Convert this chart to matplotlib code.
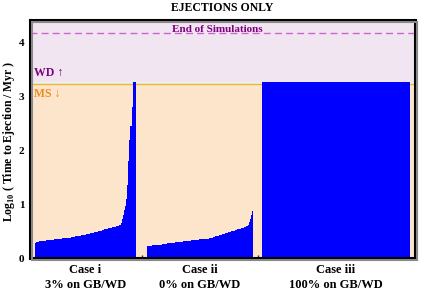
import numpy as np
import matplotlib
matplotlib.use("Agg")
import matplotlib.pyplot as plt
from matplotlib.patches import Rectangle
from matplotlib.transforms import blended_transform_factory

plt.rcParams['font.family'] = ['Liberation Serif', 'DejaVu Serif']
plt.rcParams['font.weight'] = 'bold'
plt.rcParams['mathtext.fontset'] = 'custom'
plt.rcParams['mathtext.rm'] = 'Liberation Serif:bold'
plt.rcParams['mathtext.bf'] = 'Liberation Serif:bold'

# ---------------- data ----------------
title = "EJECTIONS ONLY"
case_names = ["Case i", "Case ii", "Case iii"]
case_notes = ["3% on GB/WD", "0% on GB/WD", "100% on GB/WD"]

# sorted log10(time to ejection / Myr) for each case
case_i = [0.28, 0.29, 0.30, 0.30, 0.31, 0.31, 0.31, 0.32, 0.32, 0.32,
          0.32, 0.33, 0.33, 0.33, 0.33, 0.34, 0.34, 0.34, 0.34, 0.35,
          0.35, 0.35, 0.35, 0.36, 0.36, 0.36, 0.36, 0.37, 0.37, 0.37,
          0.37, 0.38, 0.38, 0.38, 0.38, 0.38, 0.39, 0.39, 0.39, 0.39,
          0.40, 0.40, 0.40, 0.41, 0.41, 0.41, 0.42, 0.42, 0.43, 0.43,
          0.44, 0.44, 0.45, 0.45, 0.46, 0.46, 0.47, 0.47, 0.48, 0.48,
          0.49, 0.49, 0.50, 0.50, 0.51, 0.51, 0.52, 0.52, 0.53, 0.53,
          0.54, 0.54, 0.55, 0.55, 0.56, 0.56, 0.57, 0.57, 0.58, 0.58,
          0.59, 0.59, 0.60, 0.61, 0.62, 0.65, 0.72, 0.80, 0.90, 0.97,
          1.10, 1.35, 1.80, 2.20, 2.45, 2.45, 2.80, 3.27, 3.27, 3.27]
case_ii = [0.22, 0.23, 0.23, 0.23, 0.23, 0.24, 0.24, 0.24, 0.24, 0.24,
           0.25, 0.25, 0.25, 0.25, 0.25, 0.26, 0.26, 0.26, 0.26, 0.26,
           0.27, 0.27, 0.27, 0.27, 0.28, 0.28, 0.28, 0.28, 0.29, 0.29,
           0.29, 0.29, 0.30, 0.30, 0.30, 0.30, 0.31, 0.31, 0.31, 0.31,
           0.32, 0.32, 0.32, 0.32, 0.33, 0.33, 0.33, 0.33, 0.34, 0.34,
           0.34, 0.34, 0.35, 0.35, 0.35, 0.35, 0.35, 0.35, 0.35, 0.35,
           0.36, 0.36, 0.37, 0.37, 0.38, 0.38, 0.39, 0.39, 0.40, 0.40,
           0.41, 0.41, 0.42, 0.43, 0.43, 0.44, 0.45, 0.45, 0.46, 0.47,
           0.47, 0.48, 0.48, 0.49, 0.50, 0.50, 0.51, 0.51, 0.52, 0.52,
           0.53, 0.53, 0.54, 0.54, 0.55, 0.55, 0.56, 0.57, 0.58, 0.59,
           0.60, 0.62, 0.66, 0.72, 0.80, 0.88]
case_iii = [3.27]

ms_end = 3.24        # end of main sequence
wd_start = 3.27      # start of white dwarf phase
sim_end = 4.176      # end of simulations
y_ticks = [0, 1, 2, 3, 4]

# ---------------- layout ----------------
W, H = 436, 291
fig = plt.figure(figsize=(W / 100, H / 100), dpi=100)
ax_l, ax_r, ax_t, ax_b = 30, 415, 20, 258
ax = fig.add_axes([ax_l / W, 1 - ax_b / H, (ax_r - ax_l) / W, (ax_b - ax_t) / H])

# shadow frame
shadow = Rectangle(((ax_l + 1.5) / W, 1 - (ax_b + 1.5) / H), (ax_r - ax_l) / W, (ax_b - ax_t) / H,
                   transform=fig.transFigure, facecolor='none', edgecolor='#888888',
                   linewidth=1.5, zorder=0)
fig.patches.append(shadow)

xmax = 385.0
ymax = 4.42
ax.set_xlim(0, xmax)
ax.set_ylim(0, ymax)

# background regions
ax.axhspan(0, ms_end, color='#FDE5CC', zorder=0, lw=0)
ax.axhspan(ms_end, wd_start, color='#E6F5E4', zorder=0, lw=0)
ax.axhspan(wd_start, ymax, color='#F1E5F2', zorder=0, lw=0)
ax.axhline(ms_end, color='#F5B142', lw=1.0, zorder=1)
ax.axhline(sim_end, color='#CC66CC', lw=1.0, ls=(0, (5, 3)), zorder=1)

# group spans in axis units
spans = [(5, 106), (117, 223), (232, 380)]
cases = [case_i, case_ii, case_iii]
for (x0, x1), vals in zip(spans, cases):
    v = np.asarray(vals, dtype=float)
    xs = np.linspace(x0, x1, len(v) + 1)
    ax.fill_between(xs, np.append(v, v[-1]), 0, step='post', color='#0000FF',
                    lw=0, zorder=2)

# separator ticks
seps = [(spans[0][1] + spans[1][0]) / 2, (spans[1][1] + spans[2][0]) / 2]
ax.set_xticks(seps)
ax.set_xticklabels([])
ax.tick_params(axis='x', direction='in', length=2.5, width=1, color='#333333')

ax.set_yticks(y_ticks)
ax.set_yticklabels([str(t) for t in y_ticks], fontsize=8, fontweight='bold')
ax.tick_params(axis='y', length=0, pad=4)

for s in ax.spines.values():
    s.set_linewidth(2.2)
    s.set_color('black')

# group labels
trans = blended_transform_factory(ax.transData, fig.transFigure)
for (x0, x1), nm, note in zip(spans, case_names, case_notes):
    xc = (x0 + x1) / 2
    ax.text(xc, 1 - 270 / H, nm, transform=trans, ha='center', va='center',
            fontsize=9, fontweight='bold')
    ax.text(xc, 1 - 285 / H, note, transform=trans, ha='center', va='center',
            fontsize=9, fontweight='bold')

# annotations
ax.text(xmax * 0.487, sim_end - 0.01, "End of Simulations", color='#800080',
        ha='center', va='bottom', fontsize=8, fontweight='bold')
ax.text(4, wd_start + 0.06, "WD \u2191", color='#800080', ha='left', va='bottom',
        fontsize=8.5, fontweight='bold', family=['Liberation Serif', 'DejaVu Sans'])
ax.text(4, ms_end - 0.08, "MS \u2193", color='#F08A1C', ha='left', va='top',
        fontsize=8.5, fontweight='bold', family=['Liberation Serif', 'DejaVu Sans'])

fig.text(222 / W, 1 - 8 / H, title, ha='center', va='center', fontsize=8.5, fontweight='bold')
fig.text(9 / W, 1 - 141 / H, r"Log$_{10}$ ( Time to Ejection / Myr )", rotation=90,
         ha='center', va='center', fontsize=8.5, fontweight='bold')

fig.savefig("out.png", dpi=100)
